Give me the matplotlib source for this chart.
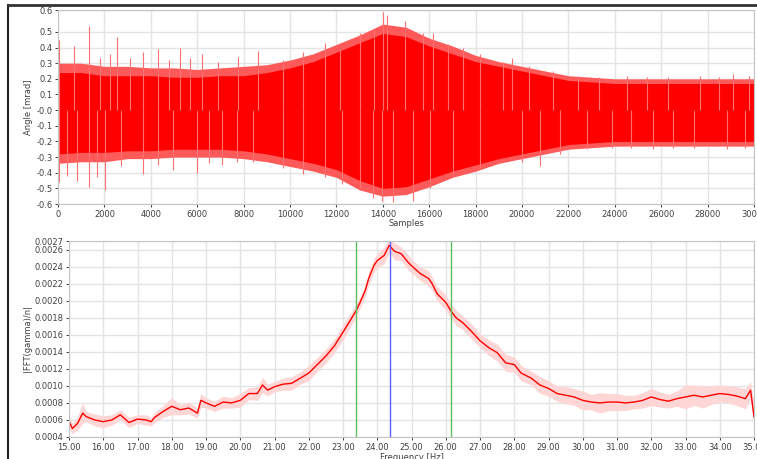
import numpy as np
import matplotlib.pyplot as plt
from matplotlib.lines import Line2D

# ---- top chart: angle signal (envelope + extreme spikes)
env_samples = list(range(0, 30001, 1000))
env_upper = [0.24, 0.24, 0.22, 0.22, 0.22, 0.21, 0.21, 0.22, 0.22, 0.24, 0.27,
             0.31, 0.37, 0.43, 0.49, 0.47, 0.41, 0.36, 0.31, 0.28, 0.25,
             0.22, 0.19, 0.18, 0.17, 0.17, 0.17, 0.17, 0.17, 0.17, 0.17]
env_lower = [-0.28, -0.27, -0.27, -0.26, -0.26, -0.25, -0.25, -0.25, -0.26, -0.28, -0.31,
             -0.34, -0.38, -0.45, -0.50, -0.49, -0.44, -0.39, -0.35, -0.31, -0.28,
             -0.25, -0.22, -0.21, -0.20, -0.20, -0.20, -0.20, -0.20, -0.20, -0.20]
# lighter fringe of dense thin peaks around the solid core
fringe_upper = [0.30, 0.30, 0.28, 0.28, 0.27, 0.27, 0.26, 0.27, 0.28, 0.29, 0.32,
                0.36, 0.42, 0.48, 0.55, 0.53, 0.46, 0.41, 0.35, 0.31, 0.28,
                0.25, 0.22, 0.21, 0.20, 0.20, 0.20, 0.20, 0.20, 0.20, 0.20]
fringe_lower = [-0.34, -0.33, -0.33, -0.31, -0.31, -0.30, -0.30, -0.30, -0.31, -0.33, -0.36,
                -0.39, -0.43, -0.51, -0.55, -0.54, -0.49, -0.43, -0.39, -0.34, -0.31,
                -0.28, -0.25, -0.24, -0.23, -0.23, -0.23, -0.23, -0.23, -0.23, -0.23]

spike_up_x = [57, 690, 1350, 1800, 2240, 2530, 3100, 3670, 4310, 4800, 5260, 5700,
              6190, 6900, 7770, 8620, 9700, 10560, 11510, 12150, 13020, 13600,
              14020, 14200, 14960, 15750, 16170, 16800, 17460, 18190, 19200, 19550,
              20300, 21350, 22400, 23300, 24510, 25400, 26300, 27670, 28500, 29110, 29800]
spike_up_y = [0.45, 0.41, 0.54, 0.33, 0.36, 0.47, 0.33, 0.37, 0.39, 0.32, 0.40, 0.33,
              0.36, 0.31, 0.34, 0.38, 0.32, 0.37, 0.43, 0.39, 0.49, 0.52,
              0.63, 0.61, 0.57, 0.49, 0.49, 0.42, 0.40, 0.36, 0.31, 0.33,
              0.28, 0.25, 0.22, 0.21, 0.22, 0.21, 0.21, 0.22, 0.21, 0.23, 0.22]
spike_dn_x = [57, 375, 805, 1350, 1670, 2030, 2700, 3670, 4300, 4970, 5980, 6500,
              7060, 7700, 8420, 9700, 10560, 11510, 12230, 13000, 13590, 13950,
              14450, 15310, 16030, 17040, 18190, 19990, 20770, 21640, 22800, 23900,
              24700, 25660, 26510, 27400, 28820, 29600]
spike_dn_y = [-0.46, -0.42, -0.45, -0.49, -0.43, -0.51, -0.36, -0.41, -0.35, -0.38, -0.40, -0.34,
              -0.35, -0.33, -0.33, -0.37, -0.41, -0.43, -0.47, -0.50, -0.56, -0.58,
              -0.59, -0.58, -0.50, -0.43, -0.37, -0.33, -0.36, -0.28, -0.25, -0.24,
              -0.24, -0.25, -0.24, -0.24, -0.25, -0.24]

# ---- bottom chart: FFT magnitude (smoothed trace + raw spread)
freq = [15.0, 15.1, 15.25, 15.4, 15.5, 15.75, 16.0, 16.25, 16.5, 16.75, 17.0, 17.25,
        17.4, 17.5, 17.75, 18.0, 18.25, 18.5, 18.75, 18.85, 19.0, 19.25, 19.5, 19.75,
        20.0, 20.25, 20.5, 20.65, 20.8, 21.0, 21.25, 21.5, 21.75, 22.0, 22.25, 22.5,
        22.75, 23.0, 23.2, 23.38, 23.5, 23.65, 23.75, 23.9, 24.0, 24.2, 24.35, 24.5,
        24.7, 24.9, 25.0, 25.25, 25.5, 25.6, 25.75, 26.0, 26.15, 26.3, 26.5, 26.75,
        27.0, 27.25, 27.5, 27.75, 28.0, 28.2, 28.5, 28.75, 29.0, 29.25, 29.5, 29.75,
        30.0, 30.25, 30.5, 30.75, 31.0, 31.25, 31.5, 31.75, 32.0, 32.25, 32.5, 32.75,
        33.0, 33.25, 33.5, 33.75, 34.0, 34.25, 34.5, 34.75, 34.9, 35.0]
fft_smooth = [0.00058, 0.00050, 0.00056, 0.00068, 0.00064, 0.00060, 0.00058, 0.00060,
              0.00066, 0.00057, 0.00061, 0.00060, 0.00058, 0.00063, 0.00070, 0.00076,
              0.00072, 0.00074, 0.00068, 0.00083, 0.00080, 0.00076, 0.00081, 0.00080,
              0.00083, 0.00091, 0.00091, 0.00101, 0.00095, 0.00099, 0.00102, 0.00103,
              0.00109, 0.00115, 0.00125, 0.00135, 0.00147, 0.00163, 0.00176, 0.00188,
              0.00198, 0.00212, 0.00226, 0.00241, 0.00247, 0.00253, 0.00265, 0.00258,
              0.00255, 0.00245, 0.00241, 0.00232, 0.00226, 0.00220, 0.00208, 0.00198,
              0.00188, 0.00180, 0.00174, 0.00164, 0.00153, 0.00145, 0.00139, 0.00127,
              0.00125, 0.00115, 0.00109, 0.00101, 0.00097, 0.00091, 0.00089, 0.00087,
              0.00083, 0.00081, 0.00080, 0.00081, 0.00081, 0.00080, 0.00081, 0.00083,
              0.00087, 0.00084, 0.00082, 0.00085, 0.00087, 0.00089, 0.00087, 0.00089,
              0.00091, 0.00090, 0.00088, 0.00085, 0.00095, 0.00064]
fft_spread = [0.00008, 0.00006, 0.00008, 0.00012, 0.00006, 0.00007, 0.00007, 0.00006,
              0.00006, 0.00006, 0.00005, 0.00006, 0.00005, 0.00006, 0.00007, 0.00010,
              0.00006, 0.00007, 0.00006, 0.00008, 0.00006, 0.00006, 0.00007, 0.00006,
              0.00008, 0.00007, 0.00008, 0.00009, 0.00007, 0.00006, 0.00007, 0.00008,
              0.00007, 0.00009, 0.00008, 0.00008, 0.00008, 0.00009, 0.00008, 0.00007,
              0.00007, 0.00007, 0.00008, 0.00008, 0.00008, 0.00010, 0.00008, 0.00010,
              0.00008, 0.00009, 0.00008, 0.00008, 0.00009, 0.00008, 0.00008, 0.00009,
              0.00008, 0.00009, 0.00008, 0.00009, 0.00008, 0.00009, 0.00010, 0.00010,
              0.00009, 0.00009, 0.00008, 0.00010, 0.00009, 0.00009, 0.00010, 0.00010,
              0.00011, 0.00009, 0.00012, 0.00010, 0.00010, 0.00009, 0.00008, 0.00009,
              0.00010, 0.00009, 0.00008, 0.00009, 0.00014, 0.00012, 0.00013, 0.00011,
              0.00010, 0.00010, 0.00011, 0.00012, 0.00010, 0.00014]
green_marks = [23.38, 26.14]
blue_mark = 24.37

W, H = 757, 459
fig = plt.figure(figsize=(W / 100, H / 100), dpi=100)
fig.patch.set_facecolor('white')

tick_col = '#404040'
grid_col = '#e4e4e4'
spine_col = '#c4c4c4'


def style(ax):
    ax.grid(True, color=grid_col, lw=1)
    ax.set_axisbelow(True)
    for s in ax.spines.values():
        s.set_color(spine_col)
    ax.tick_params(labelsize=6, colors=tick_col, length=2.5, width=0.7, pad=1.5)


# top axes
ax1 = fig.add_axes([58 / W, 1 - 204 / H, 696 / W, 194 / H])
style(ax1)
ax1.vlines(spike_up_x, 0, spike_up_y, color='#ff7070', lw=0.8)
ax1.vlines(spike_dn_x, 0, spike_dn_y, color='#ff7070', lw=0.8)
ax1.fill_between(env_samples, fringe_lower, fringe_upper, color='#ff5a5a', lw=0)
ax1.fill_between(env_samples, env_lower, env_upper, color='#ff0000', lw=0)
ax1.set_xlim(0, 30000)
ax1.set_ylim(-0.6, 0.64)
ax1.set_xticks(range(0, 30001, 2000))
yt = [-0.6, -0.5, -0.4, -0.3, -0.2, -0.1, 0.0, 0.1, 0.2, 0.3, 0.4, 0.5, 0.64]
ax1.set_yticks(yt)
ax1.set_yticklabels(['-0.6', '-0.5', '-0.4', '-0.3', '-0.2', '-0.1', '-0.0',
                     '0.1', '0.2', '0.3', '0.4', '0.5', '0.6'])
ax1.set_xlabel('Samples', fontsize=6, color=tick_col, labelpad=0)
ax1.set_ylabel('Angle [mrad]', fontsize=6, color=tick_col, labelpad=2)

# bottom axes
ax2 = fig.add_axes([69 / W, 1 - 437 / H, 685 / W, 196 / H])
style(ax2)
f = np.array(freq)
s = np.array(fft_smooth)
d = np.array(fft_spread)
ax2.fill_between(f, s - d, s + d, color='#ffd6d6', lw=0)
ax2.plot(f, s, color='#ff0000', lw=1)
for g in green_marks:
    ax2.axvline(g, color='#5cbf5c', lw=1)
ax2.axvline(blue_mark, color='#5c5cff', lw=1)
ax2.set_xlim(15, 35)
ax2.set_ylim(0.0004, 0.0027)
ax2.set_xticks(range(15, 36))
ax2.set_xticklabels(['%.2f' % v for v in range(15, 36)])
yt2 = [0.0004 + 0.0002 * i for i in range(12)] + [0.0027]
ax2.set_yticks(yt2)
ax2.set_yticklabels(['%.4f' % v for v in yt2])
ax2.set_xlabel('Frequency [Hz]', fontsize=6, color=tick_col, labelpad=1)
ax2.set_ylabel('|FFT(gamma)/n|', fontsize=6, color=tick_col, labelpad=2)

# window border (top and left edges)
fig.add_artist(Line2D([8 / W, 8 / W], [0, 1 - 5 / H], color='#222222', lw=1.5,
                      transform=fig.transFigure))
fig.add_artist(Line2D([8 / W, 1], [1 - 5 / H, 1 - 5 / H], color='#333333', lw=2,
                      transform=fig.transFigure))

fig.savefig('out.png', dpi=100)
